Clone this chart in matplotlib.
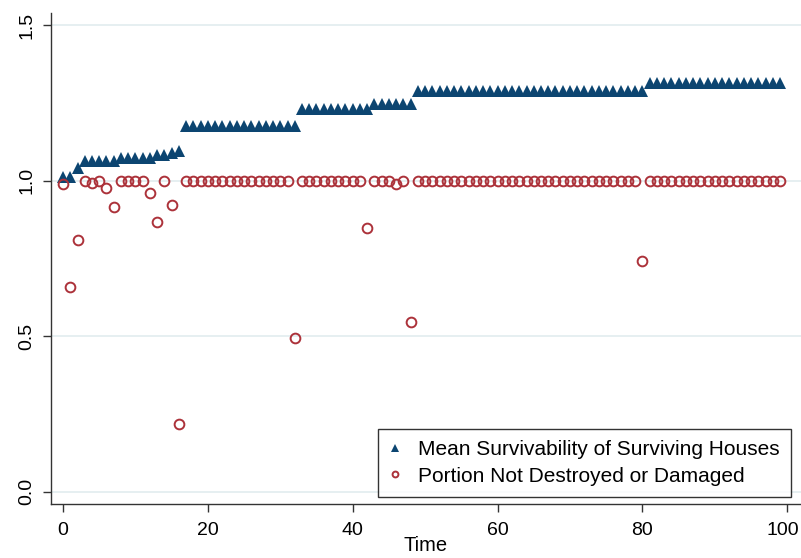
import matplotlib.pyplot as plt
from matplotlib.transforms import ScaledTranslation

plt.rcParams['font.family'] = ['Liberation Sans', 'DejaVu Sans']

# time steps
time = list(range(100))

# mean survivability of surviving houses
mean_surv = ([1.01, 1.01, 1.04] + [1.062] * 5 + [1.072] * 5 + [1.082] * 2 + [1.088, 1.096]
             + [1.176] * 16 + [1.229] * 10 + [1.246] * 6 + [1.288] * 32 + [1.314] * 19)

# portion not destroyed or damaged
portion = [0.988, 0.657, 0.81, 1.0, 0.993, 1.0, 0.975, 0.915, 1.0, 1.0,
           1.0, 1.0, 0.96, 0.868, 1.0, 0.922, 0.218] + [1.0] * 15 + [0.494] \
          + [1.0] * 9 + [0.846, 1.0, 1.0, 1.0, 0.99, 1.0, 0.545] + [1.0] * 31 + [0.74] + [1.0] * 19

fig = plt.figure(figsize=(8.01, 5.58), dpi=100)
ax = fig.add_axes([51 / 801, 1 - 504 / 558, 750 / 801, 491 / 558])

for y in [0, 0.5, 1.0, 1.5]:
    ax.axhline(y, color='#e4eef0', linewidth=1.3, zorder=0)

ax.plot(time, mean_surv, linestyle='none', marker='^', markersize=9.0,
        color='#0c4571', markeredgewidth=0, label='Mean Survivability of Surviving Houses', zorder=3)
ax.plot(time, portion, linestyle='none', marker='o', markersize=7.0,
        markerfacecolor='none', markeredgecolor='#ac323a', markeredgewidth=1.4,
        label='Portion Not Destroyed or Damaged', zorder=4)

ax.set_xlim(-1.66, 101.9)
ax.set_ylim(-0.040, 1.539)
ax.set_xticks([0, 20, 40, 60, 80, 100])
ax.set_yticks([0, 0.5, 1.0, 1.5])
ax.set_yticklabels(['0.0', '0.5', '1.0', '1.5'], rotation=90, va='center')

for side in ['top', 'right']:
    ax.spines[side].set_visible(False)
for side in ['left', 'bottom']:
    ax.spines[side].set_color('#333333')
    ax.spines[side].set_linewidth(1.0)

ax.tick_params(axis='both', direction='out', length=6, width=1.0, color='#333333',
               labelsize=14, labelcolor='black')
ax.tick_params(axis='y', pad=5)
ax.tick_params(axis='x', pad=7)

# keep "100" inside the figure
last = ax.get_xticklabels()[-1]
last.set_transform(last.get_transform() + ScaledTranslation(-3 / 72, 0, fig.dpi_scale_trans))

ax.set_xlabel('Time', fontsize=14.5, labelpad=-2)

leg = ax.legend(loc='lower right', bbox_to_anchor=(0.987, 0.014), fontsize=15,
                markerscale=0.6, handlelength=0.6, handletextpad=0.8,
                frameon=True, fancybox=False, borderpad=0.55, labelspacing=0.35,
                borderaxespad=0)
leg.get_frame().set_edgecolor('black')
leg.get_frame().set_linewidth(1.0)

fig.savefig('out.png', dpi=100)
